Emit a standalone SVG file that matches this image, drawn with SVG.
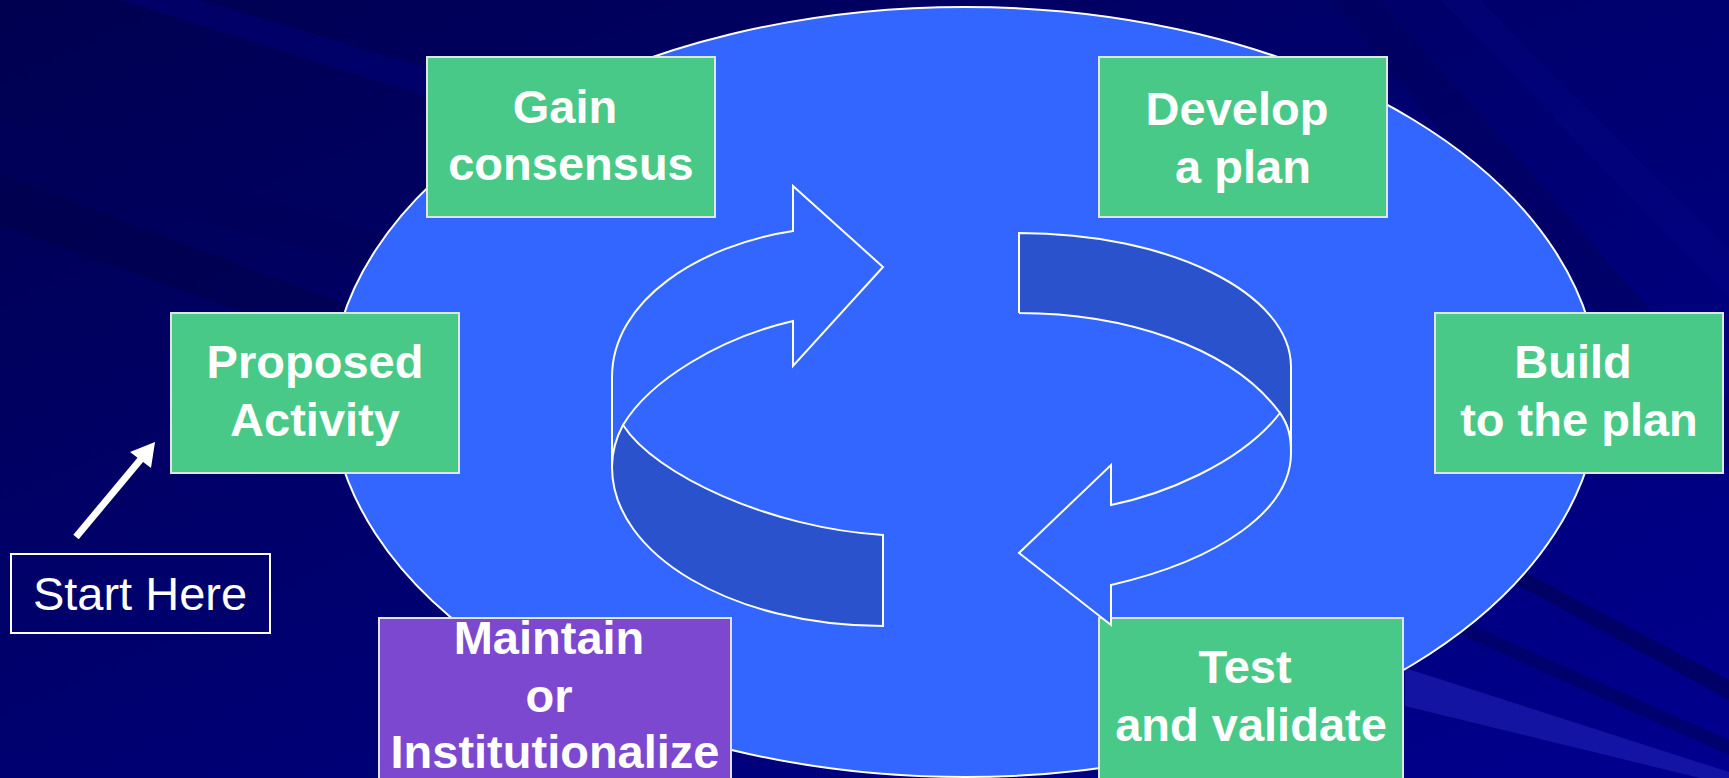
<svg xmlns="http://www.w3.org/2000/svg" width="1729" height="778" viewBox="0 0 1729 778">
<defs>
<linearGradient id="bg" x1="0" y1="0" x2="1" y2="1">
<stop offset="0" stop-color="#000050"/>
<stop offset="0.5" stop-color="#000070"/>
<stop offset="1" stop-color="#00008E"/>
</linearGradient>
<style>
.box{stroke:#DDE6E2;stroke-width:2}
.green{fill:#48C987}
.purple{fill:#7B48CF}
.lbl{font-family:"Liberation Sans",Arial,sans-serif;font-weight:bold;font-size:47px;fill:#FFFFFF;text-anchor:middle}
.start{font-family:"Liberation Sans",Arial,sans-serif;font-size:47px;fill:#FFFFFF;text-anchor:middle}
.ring{fill:#3366FF;stroke:#FFFFFF;stroke-width:2;stroke-linejoin:miter}
.band{fill:#2A52CC;stroke:none}
.wline{fill:none;stroke:#FFFFFF;stroke-width:2}
</style>
</defs>
<g id="background">
<rect x="0" y="0" width="1729" height="778" fill="url(#bg)"/>
<polygon points="0,120 600,300 600,330 0,165" fill="#00005A" opacity="0.6"/>
<polygon points="0,175 600,400 600,440 0,225" fill="#000048" opacity="0.5"/>
<polygon points="200,0 600,120 600,150 120,0" fill="#00007A" opacity="0.5"/>
<polygon points="1380,0 1729,400 1729,470 1330,0" fill="#00005A" opacity="0.5"/>
<polygon points="1480,0 1729,250 1729,300 1440,0" fill="#1010A0" opacity="0.15"/>
<polygon points="1520,570 1729,680 1729,700 1500,575" fill="#00005E" opacity="0.8"/>
<polygon points="1460,620 1729,740 1729,755 1450,630" fill="#000066" opacity="0.8"/>
<polygon points="1405,668 1729,772 1729,778 1700,778 1405,706" fill="#1818A8" opacity="0.85"/>
</g>
<g id="ellipse">
<ellipse cx="965" cy="392" rx="634" ry="385" fill="#3366FF" stroke="#FFFFFF" stroke-width="2"/>
</g>
<g id="gain-consensus">
<rect class="box green" x="427" y="57" width="288" height="160"/>
<text class="lbl" x="565" y="123">Gain</text>
<text class="lbl" x="571" y="180">consensus</text>
</g>
<g id="develop-plan">
<rect class="box green" x="1099" y="57" width="288" height="160"/>
<text class="lbl" x="1237" y="125">Develop</text>
<text class="lbl" x="1243" y="183">a plan</text>
</g>
<g id="proposed-activity">
<rect class="box green" x="171" y="313" width="288" height="160"/>
<text class="lbl" x="315" y="378">Proposed</text>
<text class="lbl" x="315" y="436">Activity</text>
</g>
<g id="build-plan">
<rect class="box green" x="1435" y="313" width="288" height="160"/>
<text class="lbl" x="1573" y="378">Build</text>
<text class="lbl" x="1579" y="436">to the plan</text>
</g>
<g id="maintain">
<rect class="box purple" x="379" y="618" width="352" height="162"/>
<text class="lbl" x="549" y="654">Maintain</text>
<text class="lbl" x="549" y="712">or</text>
<text class="lbl" x="555" y="768">Institutionalize</text>
</g>
<g id="test-validate">
<rect class="box green" x="1099" y="618" width="304" height="162"/>
<text class="lbl" x="1245" y="683">Test</text>
<text class="lbl" x="1251" y="741">and validate</text>
</g>
<g id="start-here">
<rect x="11" y="554" width="259" height="79" fill="none" stroke="#FFFFFF" stroke-width="2"/>
<text class="start" x="140" y="610">Start Here</text>
</g>
<g id="connectors">
<line x1="76" y1="537" x2="141" y2="459" stroke="#FFFFFF" stroke-width="7"/>
<polygon points="155,442 130,452 151,468" fill="#FFFFFF"/>
</g>
<g id="cycle">
<path class="band" d="M623,425 C655,475 770,528 883,535 L883,626 C733,626 612,555 612,467 C612,452 616,438 623,425 Z"/>
<path class="ring" d="M612,467 L612,377 C612,300 700,245 793,231 L793,186 L883,267 L793,366 L793,321 C720,338 650,380 623,425 C616,438 612,452 612,467 Z"/>
<path class="wline" d="M623,425 C655,475 770,528 883,535 L883,626 C733,626 612,555 612,467"/>
<path class="band" d="M1019,233 C1169,233 1291,293 1291,367 L1291,453 C1291,435 1288,425 1280,413 C1230,345 1120,313 1019,313 Z"/>
<path class="wline" d="M1019,313 L1019,233 C1169,233 1291,293 1291,367 L1291,453 M1019,313 C1120,313 1230,345 1280,413 C1288,425 1291,435 1291,453"/>
<path class="ring" d="M1291,453 C1291,510 1220,560 1111,585 L1111,625 L1019,553 L1111,465 L1111,505 C1160,495 1240,465 1280,413 C1288,425 1291,435 1291,453 Z"/>
</g>
</svg>
